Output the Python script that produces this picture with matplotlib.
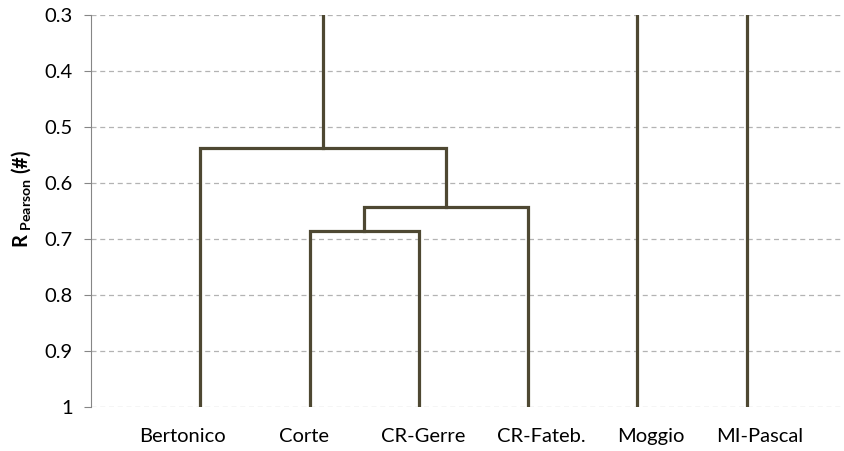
import matplotlib.pyplot as plt

plt.rcParams['font.family'] = ['Lato', 'DejaVu Sans']
plt.rcParams['mathtext.fontset'] = 'custom'
plt.rcParams['mathtext.bf'] = 'Lato:bold'
plt.rcParams['mathtext.rm'] = 'Lato'

# Sites (leaves of the dendrogram)
sites = ['Bertonico', 'Corte', 'CR-Gerre', 'CR-Fateb.', 'Moggio', 'MI-Pascal']

# Merges: (node a, node b, Pearson R level); new nodes get index 6, 7, ...
merge_a = [1, 6, 0]
merge_b = [2, 3, 7]
merge_r = [0.685, 0.643, 0.537]

r_top = 0.3
line_color = '#4e4832'

# category labels sit a little off the leaf lines
label_pos = [0.833, 1.949, 3.037, 4.117, 5.123, 6.121]

fig = plt.figure(figsize=(8.45, 4.51), dpi=100)
ax = fig.add_axes([91 / 845, 44 / 451, 754 / 845, 392 / 451])

node_x = [i + 1 for i in range(len(sites))]
node_r = [1.0] * len(sites)
used = set()

for a, b, r in zip(merge_a, merge_b, merge_r):
    ax.plot([node_x[a], node_x[a], node_x[b], node_x[b]],
            [node_r[a], r, r, node_r[b]],
            color=line_color, lw=2.3, solid_joinstyle='miter', zorder=3)
    used.update([a, b])
    node_x.append((node_x[a] + node_x[b]) / 2)
    node_r.append(r)

# Unmerged nodes run straight up to the top of the axis
for i in range(len(node_x)):
    if i not in used:
        ax.plot([node_x[i], node_x[i]], [node_r[i], r_top],
                color=line_color, lw=2.3, zorder=3)

ax.set_xlim(0, 754 / 109.3)
ax.set_ylim(1.0, r_top)
ax.set_xticks(label_pos)
ax.set_xticklabels(sites, fontsize=14.5)
ax.tick_params(axis='x', length=0, pad=15)

yticks = [0.3, 0.4, 0.5, 0.6, 0.7, 0.8, 0.9, 1.0]
ax.set_yticks(yticks)
ax.set_yticklabels(['0.3', '0.4', '0.5', '0.6', '0.7', '0.8', '0.9', '1'], fontsize=14.5)
ax.tick_params(axis='y', length=5, color='#868686', pad=8)

ax.grid(axis='y', color='#b3b3b3', linestyle=(0, (4, 3)), linewidth=0.9)
ax.set_axisbelow(True)

for side in ['top', 'right', 'bottom']:
    ax.spines[side].set_visible(False)
ax.spines['left'].set_color('#868686')

ax.set_ylabel(r'$\mathbf{R}_{\ \mathbf{Pearson}}$ (#)', fontsize=14.5, fontweight='bold')
ax.yaxis.set_label_coords(-0.077, 0.531)

plt.savefig('out.png', dpi=100)
